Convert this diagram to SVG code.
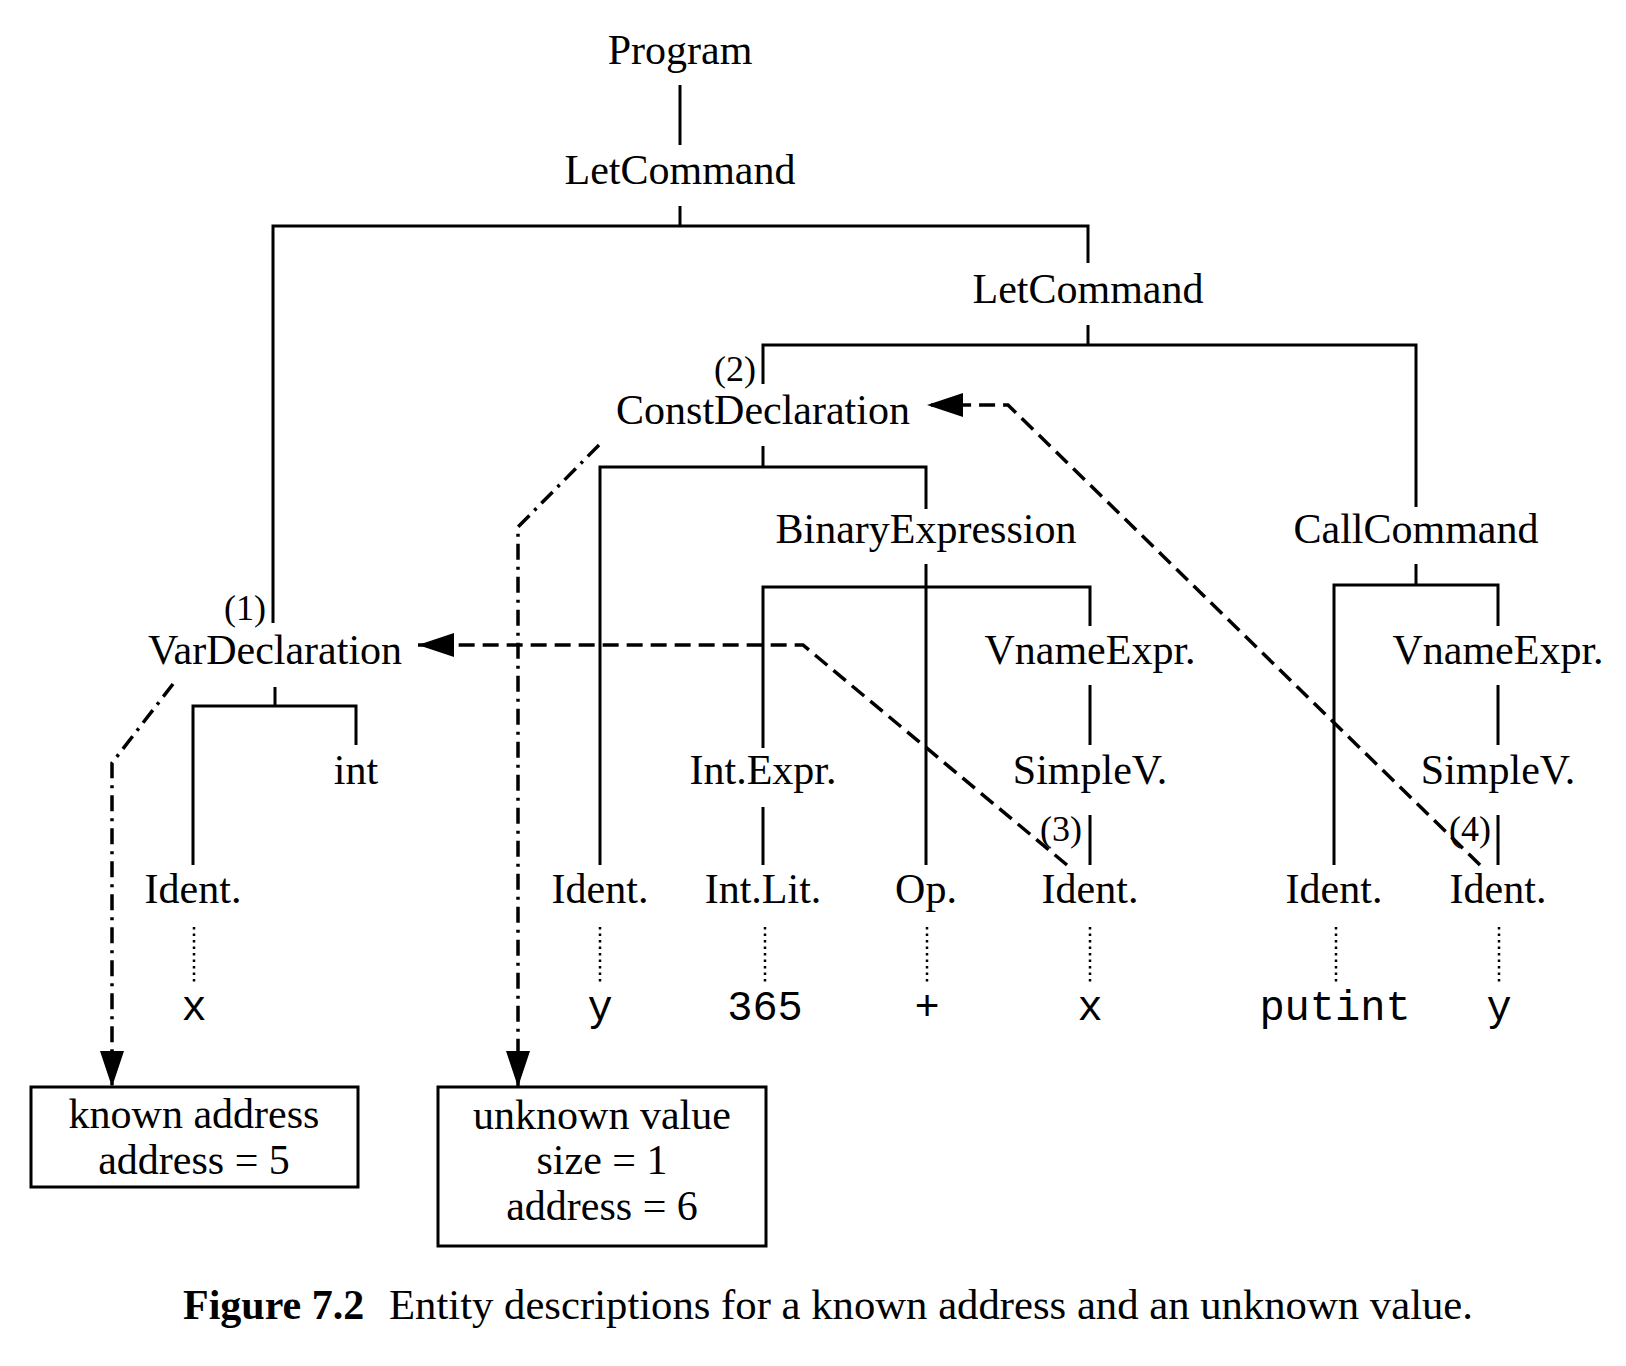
<svg xmlns="http://www.w3.org/2000/svg" width="1626" height="1366" viewBox="0 0 1626 1366">
<style>
.t{font-family:"Liberation Serif","Times New Roman",serif;font-size:42px;fill:#000;text-anchor:middle}
.m{font-family:"Liberation Mono","Courier New",monospace;font-size:42px;fill:#000;text-anchor:middle}
.n{font-family:"Liberation Serif","Times New Roman",serif;font-size:36px;fill:#000;text-anchor:end}
.tree{fill:none;stroke:#000;stroke-width:3}
.dot{fill:none;stroke:#000;stroke-width:2.5;stroke-dasharray:2.5 4}
.dash{fill:none;stroke:#000;stroke-width:3.5;stroke-dasharray:16 8}
.dd{fill:none;stroke:#000;stroke-width:3.5;stroke-dasharray:16 7 3 7}
.box{fill:none;stroke:#000;stroke-width:3}
.cap{font-family:"Liberation Serif","Times New Roman",serif;font-size:42px;fill:#000}
</style>
<defs>
<marker id="ah" markerUnits="userSpaceOnUse" markerWidth="38" markerHeight="24" refX="36" refY="12" orient="auto">
<path d="M0,0 L36,12 L0,24 z" fill="#000"/>
</marker>
</defs>
<rect width="1626" height="1366" fill="#fff"/>
<g id="connectors">
<path class="tree" d="M680,85 V145"/>
<path class="tree" d="M680,206 V226"/>
<path class="tree" d="M273,623 V226 H1088 V263"/>
<path class="tree" d="M1088,325 V345"/>
<path class="tree" d="M763,384 V345 H1416 V507"/>
<path class="tree" d="M763,446 V467"/>
<path class="tree" d="M600,865 V467 H926 V509"/>
<path class="tree" d="M926,564 V865"/>
<path class="tree" d="M763,748 V587 H1090 V626"/>
<path class="tree" d="M1090,685 V745"/>
<path class="tree" d="M1090,815 V865"/>
<path class="tree" d="M763,807 V865"/>
<path class="tree" d="M1416,564 V585"/>
<path class="tree" d="M1334,865 V585 H1498 V626"/>
<path class="tree" d="M1498,685 V745"/>
<path class="tree" d="M1498,815 V865"/>
<path class="tree" d="M275,687 V706"/>
<path class="tree" d="M193,865 V706 H356 V745"/>
<path class="dot" d="M194,927 V984"/>
<path class="dot" d="M600,927 V984"/>
<path class="dot" d="M765,927 V984"/>
<path class="dot" d="M927,927 V984"/>
<path class="dot" d="M1090,927 V984"/>
<path class="dot" d="M1336,927 V984"/>
<path class="dot" d="M1499,927 V984"/>
<path class="dash" d="M1480,865 L1008,405 L927,405" marker-end="url(#ah)"/>
<path class="dash" d="M1067,865 L803,645 L418,645" marker-end="url(#ah)"/>
<path class="dd" d="M173,684 L112,763 L112,1087" marker-end="url(#ah)"/>
<path class="dd" d="M599,445 L518,527 L518,1087" marker-end="url(#ah)"/>
</g>
<g id="program"><text class="t" x="680" y="64">Program</text></g>
<g id="letcommand1"><text class="t" x="680" y="184">LetCommand</text></g>
<g id="letcommand2"><text class="t" x="1088" y="303">LetCommand</text></g>
<g id="constdecl"><text class="n" x="756" y="381">(2)</text><text class="t" x="763" y="424">ConstDeclaration</text></g>
<g id="binexpr"><text class="t" x="926" y="543">BinaryExpression</text></g>
<g id="callcommand"><text class="t" x="1416" y="543">CallCommand</text></g>
<g id="vardecl"><text class="n" x="266" y="620">(1)</text><text class="t" x="275" y="664">VarDeclaration</text></g>
<g id="vname1"><text class="t" x="1090" y="664">VnameExpr.</text></g>
<g id="vname2"><text class="t" x="1498" y="664">VnameExpr.</text></g>
<g id="int"><text class="t" x="356" y="784">int</text></g>
<g id="intexpr"><text class="t" x="763" y="784">Int.Expr.</text></g>
<g id="simplev1"><text class="t" x="1090" y="784">SimpleV.</text></g>
<g id="simplev2"><text class="t" x="1498" y="784">SimpleV.</text></g>
<g id="label3"><text class="n" x="1082" y="841">(3)</text></g>
<g id="label4"><text class="n" x="1491" y="841">(4)</text></g>
<g id="ident-x"><text class="t" x="193" y="903">Ident.</text><text class="m" x="194" y="1020">x</text></g>
<g id="ident-y"><text class="t" x="600" y="903">Ident.</text><text class="m" x="600" y="1020">y</text></g>
<g id="intlit"><text class="t" x="763" y="903">Int.Lit.</text><text class="m" x="765" y="1020">365</text></g>
<g id="op"><text class="t" x="926" y="903">Op.</text><text class="m" x="927" y="1020">+</text></g>
<g id="ident-x2"><text class="t" x="1090" y="903">Ident.</text><text class="m" x="1090" y="1020">x</text></g>
<g id="ident-putint"><text class="t" x="1334" y="903">Ident.</text><text class="m" x="1335" y="1020">putint</text></g>
<g id="ident-y2"><text class="t" x="1498" y="903">Ident.</text><text class="m" x="1499" y="1020">y</text></g>
<g id="box-known">
<rect class="box" x="31" y="1087" width="327" height="100"/>
<text class="t" x="194" y="1128">known address</text>
<text class="t" x="194" y="1174">address = 5</text>
</g>
<g id="box-unknown">
<rect class="box" x="438" y="1087" width="328" height="159"/>
<text class="t" x="602" y="1129">unknown value</text>
<text class="t" x="602" y="1174">size = 1</text>
<text class="t" x="602" y="1220">address = 6</text>
</g>
<g id="caption">
<text class="cap" x="183" y="1319" font-weight="bold">Figure 7.2</text>
<text class="cap" x="389" y="1319" textLength="1084" lengthAdjust="spacingAndGlyphs">Entity descriptions for a known address and an unknown value.</text>
</g>
</svg>
